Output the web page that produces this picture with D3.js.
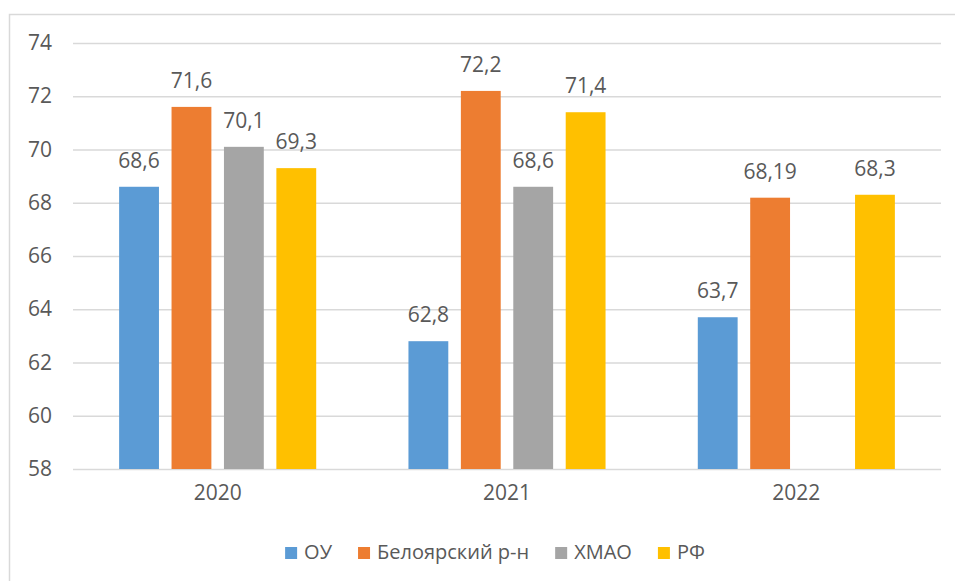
<!DOCTYPE html>
<html>
<head>
<meta charset="utf-8">
<script src="https://cdn.jsdelivr.net/npm/d3@7"></script>
<style>
  body { margin: 0; background: #fff; }
  svg { display: block; font-family: "Open Sans", "Noto Sans", sans-serif; }
</style>
</head>
<body>
<svg></svg>
<script>
// chart data
var years = ["2020", "2021", "2022"];
var seriesNames = ["ОУ", "Белоярский р-н", "ХМАО", "РФ"];
var ouValues = [68.6, 62.8, 63.7];
var belValues = [71.6, 72.2, 68.19];
var hmaoValues = [70.1, 68.6, null];   // no bar for 2022
var rfValues = [69.3, 71.4, 68.3];
var yTicks = [58, 60, 62, 64, 66, 68, 70, 72, 74];

var colors = ["#5b9bd5", "#ed7d31", "#a5a5a5", "#ffc000"];
var allValues = [ouValues, belValues, hmaoValues, rfValues];

var svgWidth = 955, svgHeight = 581;
var plot = { left: 73, right: 941, top: 43, bottom: 469 };
var textColor = "#595959", gridColor = "#d9d9d9";

var svg = d3.select("svg")
    .attr("width", svgWidth)
    .attr("height", svgHeight);

// chart frame (only left and top edges are inside the picture)
svg.append("rect")
    .attr("x", 9.5).attr("y", 14.5)
    .attr("width", 1000).attr("height", 700)
    .attr("fill", "none")
    .attr("stroke", gridColor)
    .attr("stroke-width", 1.5);

var yScale = d3.scaleLinear()
    .domain([58, 74])
    .range([plot.bottom, plot.top]);

var x0 = d3.scaleBand()
    .domain(years)
    .range([plot.left, plot.right]);

var x1 = d3.scaleBand()
    .domain(seriesNames)
    .range([0, x0.bandwidth()])
    .paddingInner(0.24)
    .paddingOuter(0.88);

// gridlines + y labels
var y_axis = d3.axisLeft(yScale)
    .tickValues(yTicks)
    .tickSize(-(plot.right - plot.left))
    .tickPadding(21)
    .tickFormat(d3.format("d"));

var yAxisG = svg.append("g")
    .attr("transform", "translate(" + plot.left + ",0)")
    .call(y_axis);
yAxisG.select(".domain").remove();
yAxisG.selectAll(".tick line")
    .attr("stroke", gridColor)
    .attr("stroke-width", 1.5);
yAxisG.selectAll(".tick text")
    .attr("fill", textColor)
    .attr("font-size", 21)
    .attr("font-family", "'Open Sans', sans-serif");

// x category labels
var x_axis = d3.axisBottom(x0).tickSize(0).tickPadding(16);
var xAxisG = svg.append("g")
    .attr("transform", "translate(0," + plot.bottom + ")")
    .call(x_axis);
xAxisG.select(".domain").remove();
xAxisG.selectAll(".tick text")
    .attr("fill", textColor)
    .attr("font-size", 21)
    .attr("font-family", "'Open Sans', sans-serif");

// flatten into bar records
var bars = [];
years.forEach(function(year, i) {
    seriesNames.forEach(function(name, j) {
        var v = allValues[j][i];
        if (v !== null) bars.push({ year: year, name: name, value: v, color: colors[j] });
    });
});

svg.append("g").selectAll("rect")
    .data(bars)
    .enter()
    .append("rect")
    .attr("x", function(d) { return x0(d.year) + x1(d.name); })
    .attr("y", function(d) { return yScale(d.value); })
    .attr("width", x1.bandwidth())
    .attr("height", function(d) { return plot.bottom - yScale(d.value); })
    .attr("fill", function(d) { return d.color; });

// value labels (comma decimal)
svg.append("g").selectAll("text")
    .data(bars)
    .enter()
    .append("text")
    .attr("x", function(d) { return x0(d.year) + x1(d.name) + x1.bandwidth() / 2; })
    .attr("y", function(d) { return yScale(d.value) - 19; })
    .attr("text-anchor", "middle")
    .attr("fill", textColor)
    .attr("font-size", 21)
    .text(function(d) { return String(d.value).replace(".", ","); });

// legend
var legend = svg.append("g");
var items = legend.selectAll("g")
    .data(seriesNames)
    .enter()
    .append("g");
items.append("rect")
    .attr("width", 12).attr("height", 12)
    .attr("y", -12)
    .attr("fill", function(d, i) { return colors[i]; });
items.append("text")
    .attr("x", 19)
    .attr("y", 0)
    .attr("fill", textColor)
    .attr("font-size", 20)
    .text(function(d) { return d; });

var xpos = 0;
items.each(function() {
    var g = d3.select(this);
    g.attr("transform", "translate(" + xpos + ",0)");
    xpos += 19 + g.select("text").node().getComputedTextLength() + 26;
});
var legendWidth = xpos - 26;
legend.attr("transform", "translate(" + (495 - legendWidth / 2) + ",559)");
</script>
</body>
</html>
